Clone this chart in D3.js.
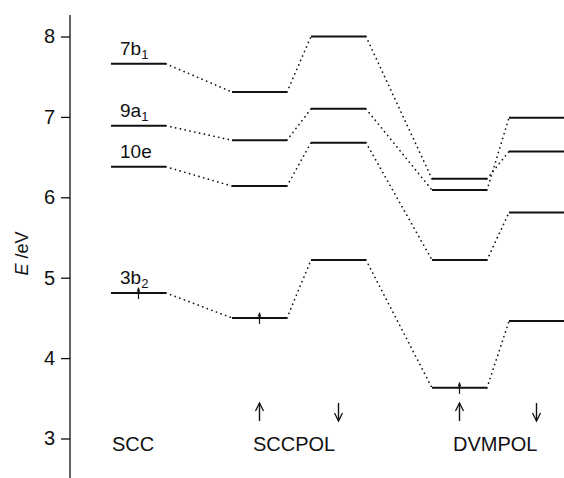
<!DOCTYPE html>
<html>
<head>
<meta charset="utf-8">
<script src="https://cdn.jsdelivr.net/npm/d3@7"></script>
<style>
  html, body { margin: 0; padding: 0; background: #fff; }
  svg { display: block; font-family: "Liberation Sans", Arial, Helvetica, sans-serif; }
</style>
</head>
<body>
<div id="chart"></div>
<script>
// columns of the level diagram (method + spin)
const columns = ['SCC', 'SCCPOL_up', 'SCCPOL_down', 'DVMPOL_up', 'DVMPOL_down']
// orbital energies (eV) per column
const orb7b1 = [7.66, 7.31, 8.00, 6.23, 6.57]
const orb9a1 = [6.89, 6.71, 7.10, 6.09, 6.99]
const orb10e = [6.38, 6.14, 6.68, 5.22, 5.81]
const orb3b2 = [4.81, 4.50, 5.22, 3.63, 4.46]
const orbitals = [
  { name: '7b', sub: '1', values: orb7b1 },
  { name: '9a', sub: '1', values: orb9a1 },
  { name: '10e', sub: '', values: orb10e },
  { name: '3b', sub: '2', values: orb3b2 }
]
const yTicks = [3, 4, 5, 6, 7, 8]
const groupLabels = ['SCC', 'SCCPOL', 'DVMPOL']
const groupStartCol = ['SCC', 'SCCPOL_up', 'DVMPOL_up']
// occupied (small arrow) marks on 3b2
const occupiedCols = ['SCC', 'SCCPOL_up', 'DVMPOL_up']
// spin arrows under the columns
const spinCols = ['SCCPOL_up', 'SCCPOL_down', 'DVMPOL_up', 'DVMPOL_down']
const spinDirs = ['up', 'down', 'up', 'down']

const width = 564
const height = 478
const levelW = 55

const svg = d3.select('#chart').append('svg')
  .attr('width', width)
  .attr('height', height)

const y = d3.scaleLinear().domain([3, 8]).range([438.5, 36.5])
const x = d3.scaleOrdinal().domain(columns).range([111, 232, 311, 432, 509])

// y axis
const axisX = 70
svg.append('line')
  .attr('x1', axisX).attr('x2', axisX)
  .attr('y1', 15).attr('y2', height)
  .attr('stroke', '#111').attr('stroke-width', 1.3)

const axisG = svg.append('g')
  .attr('transform', `translate(${axisX},0)`)
  .call(d3.axisLeft(y).tickValues(yTicks).tickSize(9).tickPadding(6).tickFormat(d3.format('d')))
axisG.select('.domain').remove()
axisG.selectAll('.tick line').attr('stroke', '#111').attr('stroke-width', 1.3)
axisG.selectAll('.tick text')
  .attr('font-size', 20)
  .attr('fill', '#111')
  .attr('font-family', '"Liberation Sans", Arial, sans-serif')

// axis title
const title = svg.append('text')
  .attr('transform', `translate(28,${y(5.3)}) rotate(-90)`)
  .attr('text-anchor', 'middle')
  .attr('font-size', 18)
  .attr('fill', '#111')
title.append('tspan').attr('font-style', 'italic').text('E')
title.append('tspan').text(' /eV')

// dotted connectors
const connG = svg.append('g')
orbitals.forEach(o => {
  for (let i = 0; i < columns.length - 1; i++) {
    connG.append('line')
      .attr('x1', x(columns[i]) + levelW)
      .attr('y1', y(o.values[i]))
      .attr('x2', x(columns[i + 1]))
      .attr('y2', y(o.values[i + 1]))
      .attr('stroke', '#111')
      .attr('stroke-width', 1.7)
      .attr('stroke-linecap', 'round')
      .attr('stroke-dasharray', '0.1,4.8')
  }
})

// levels
const levelG = svg.append('g')
orbitals.forEach(o => {
  levelG.selectAll(null)
    .data(columns)
    .enter().append('line')
    .attr('x1', d => x(d))
    .attr('x2', d => x(d) + levelW)
    .attr('y1', (d, i) => y(o.values[i]))
    .attr('y2', (d, i) => y(o.values[i]))
    .attr('stroke', '#111')
    .attr('stroke-width', 2)
})

// level labels on SCC column
orbitals.forEach(o => {
  const t = svg.append('text')
    .attr('x', x('SCC') + 9)
    .attr('y', y(o.values[0]) - 9)
    .attr('font-size', 19)
    .attr('fill', '#111')
  t.append('tspan').text(o.name)
  if (o.sub) t.append('tspan').attr('font-size', 13).attr('dy', 4).text(o.sub)
})

function arrowHead (g, cx, tipY, dir, size) {
  // dir: 1 = pointing up, -1 = pointing down
  g.append('path')
    .attr('d', `M${cx - size * 0.5},${tipY + dir * size}L${cx},${tipY}L${cx + size * 0.5},${tipY + dir * size}`)
    .attr('fill', 'none')
    .attr('stroke', '#111')
    .attr('stroke-width', 1.3)
}

// small arrows marking occupied 3b2
const smallG = svg.append('g')
occupiedCols.forEach(c => {
  const i = columns.indexOf(c)
  const cx = x(c) + levelW / 2
  const yy = y(orb3b2[i])
  smallG.append('line')
    .attr('x1', cx).attr('x2', cx)
    .attr('y1', yy + 6).attr('y2', yy - 5)
    .attr('stroke', '#111').attr('stroke-width', 1.2)
  smallG.append('path')
    .attr('d', `M${cx - 1.8},${yy - 1.5}L${cx},${yy - 6}L${cx + 1.8},${yy - 1.5}Z`)
    .attr('fill', '#111')
})

// spin arrows below
const spinG = svg.append('g')
spinCols.forEach((c, k) => {
  const cx = x(c) + levelW / 2
  const top = 403
  const bot = 421
  spinG.append('line')
    .attr('x1', cx).attr('x2', cx)
    .attr('y1', top).attr('y2', bot)
    .attr('stroke', '#111').attr('stroke-width', 1.4)
  if (spinDirs[k] === 'up') arrowHead(spinG, cx, top, 1, 8)
  else arrowHead(spinG, cx, bot, -1, 8)
})

// group labels
groupLabels.forEach((g, k) => {
  svg.append('text')
    .attr('x', x(groupStartCol[k]) + (k === 0 ? 1 : 21))
    .attr('y', 451)
    .attr('font-size', 20)
    .attr('fill', '#111')
    .text(g)
})
</script>
</body>
</html>
